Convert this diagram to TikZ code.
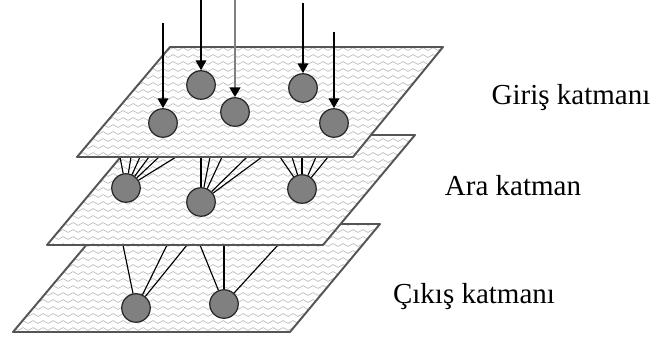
\documentclass[tikz,border=0pt]{standalone}
\usepackage{fontspec}
\setmainfont{Liberation Serif}
\usetikzlibrary{arrows.meta,decorations.pathmorphing}

\definecolor{unitgray}{RGB}{128,128,128}
\definecolor{rimgray}{RGB}{85,85,85}
\definecolor{wavegray}{RGB}{190,190,190}

\tikzset{
  unit/.style={circle,draw=black!85,fill=unitgray,line width=0.7pt,
    minimum size=0.57cm,inner sep=0pt},
  plane/.style={draw=rimgray,line width=1.1pt,line join=round},
  wave/.style={wavegray,line width=0.4pt,decorate,
    decoration={snake,amplitude=0.8pt,segment length=2mm}},
  link/.style={black,line width=0.65pt},
  feed/.style={black,line width=0.9pt,-{Triangle[length=5.5pt,width=6pt]}},
  layername/.style={anchor=base,font=\fontsize{16.5}{18}\selectfont}
}

% one wavy sheet: four corners, filled white, hatched with waves
\newcommand{\sheet}[4]{%
  \fill[white] #1--#2--#3--#4--cycle;
  \begin{scope}
    \clip #1--#2--#3--#4--cycle;
    \foreach \y in {0,7,...,345} \draw[wave] (0,\y) -- (460,\y);
  \end{scope}
  \draw[plane] #1--#2--#3--#4--cycle;}

\begin{document}
\begin{tikzpicture}[x=0.02cm,y=-0.02cm]
  \useasboundingbox (0,0) rectangle (654,345);

  % output layer
  \sheet{(13,332)}{(290,332)}{(380,224)}{(104,224)}
  \node[unit] (out1) at (136,308) {};
  \node[unit] (out2) at (224,304) {};
  \foreach \x [count=\i] in {123,167,187} {
    \coordinate (o1\i) at (\x,245);
    \draw[link] (out1) -- (o1\i);
  }
  \foreach \x [count=\i] in {200,224,278} {
    \coordinate (o2\i) at (\x,245);
    \draw[link] (out2) -- (o2\i);
  }

  % hidden layer
  \sheet{(47,245)}{(323,245)}{(415,135)}{(139,135)}
  \node[unit] (hid1) at (126,188) {};
  \node[unit] (hid2) at (201,202) {};
  \node[unit] (hid3) at (302,189) {};
  \foreach \x [count=\i] in {120,131,140,149,159,176} {
    \coordinate (h1\i) at (\x,157);
    \draw[link] (hid1) -- (h1\i);
  }
  \foreach \x [count=\i] in {201,210,222,247,262} {
    \coordinate (h2\i) at (\x,157);
    \draw[link] (hid2) -- (h2\i);
  }
  \foreach \x [count=\i] in {280,292,302,316,328} {
    \coordinate (h3\i) at (\x,157);
    \draw[link] (hid3) -- (h3\i);
  }

  % input layer
  \sheet{(77,157)}{(353,157)}{(443,47)}{(170,47)}
  \node[unit] (in1) at (163,123) {};
  \node[unit] (in2) at (201,85) {};
  \node[unit] (in3) at (235,112) {};
  \node[unit] (in4) at (303,88) {};
  \node[unit] (in5) at (334,123) {};

  \coordinate (s1) at (163,23);
  \coordinate (s2) at (201,0);
  \coordinate (s3) at (235,0);
  \coordinate (s4) at (303,3);
  \coordinate (s5) at (334,32);
  \foreach \i in {1,2,4,5} \draw[feed] (s\i) -- (in\i);
  \draw[feed,line width=1.4pt,black!50,-{Triangle[length=5.5pt,width=6pt,black]}] (s3) -- (in3);

  % layer names
  \node[layername] (tin)  at (571,104) {Giriş katmanı};
  \node[layername] (thid) at (513,195) {Ara katman};
  \node[layername] (tout) at (474,303) {Çıkış katmanı};
\end{tikzpicture}
\end{document}
